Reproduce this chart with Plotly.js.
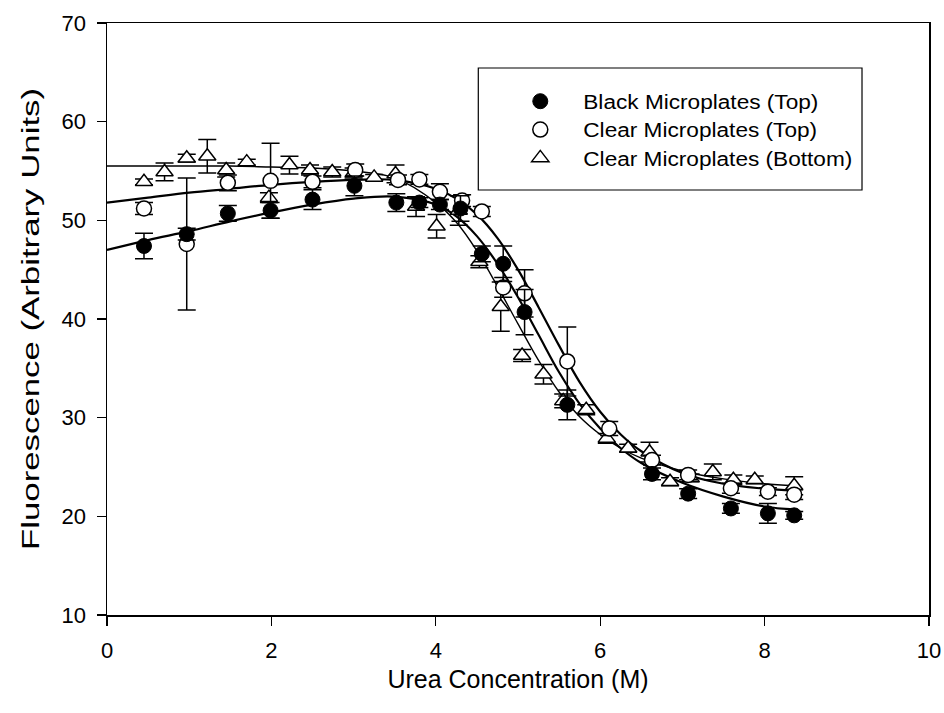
<!DOCTYPE html>
<html>
<head>
<meta charset="utf-8">
<script src="https://cdn.plot.ly/plotly-3.0.1.min.js"></script>
<style>html,body{margin:0;padding:0;background:#fff;}#chart{width:944px;height:713px;}</style>
</head>
<body>
<div id="chart"></div>
<script>
// Black Microplates (Top)
const blackX = [0.45,0.97,1.47,1.99,2.50,3.01,3.52,3.80,4.05,4.30,4.56,4.82,5.08,5.60,6.63,7.07,7.59,8.04,8.36];
const blackY = [47.4,48.6,50.7,51.0,52.1,53.5,51.8,51.8,51.6,51.2,46.6,45.6,40.7,31.3,24.3,22.3,20.8,20.3,20.1];
const blackErr = [1.3,0.6,0.8,0.8,1.0,1.0,0.9,0.5,0.5,1.3,0.8,1.8,2.3,1.5,0.6,0.5,0.5,1.0,0.4];
// Clear Microplates (Top)
const clearTopX = [0.45,0.97,1.47,1.99,2.50,3.02,3.54,3.80,4.05,4.32,4.56,4.82,5.08,5.60,6.11,6.63,7.07,7.59,8.04,8.36];
const clearTopY = [51.2,47.6,53.8,54.0,53.9,55.1,54.1,54.15,52.9,52.0,50.9,43.2,42.6,35.7,28.9,25.7,24.2,22.85,22.5,22.2];
const clearTopErr = [0.6,6.7,0.8,3.8,0.6,0.6,0.5,0.5,0.8,0.6,0.5,1.0,2.4,3.5,0.7,0.5,0.5,0.5,0.4,0.5];
// Clear Microplates (Bottom)
const clearBotX = [0.45,0.70,0.97,1.22,1.45,1.70,1.97,2.22,2.47,2.74,3.00,3.25,3.51,3.76,4.01,4.28,4.53,4.79,5.05,5.31,5.55,5.83,6.08,6.34,6.60,6.85,7.10,7.37,7.62,7.88,8.36];
const clearBotY = [53.9,54.9,56.3,56.5,55.1,55.9,52.3,55.6,55.1,54.9,54.8,54.35,54.7,51.4,49.4,51.0,45.8,41.25,36.3,34.4,31.7,30.8,27.9,26.9,26.5,23.5,23.9,24.5,23.7,23.7,23.1];
const clearBotErr = [0.3,0.9,0.4,1.7,0.7,0.3,0.5,0.9,0.5,0.5,0.5,0.3,0.9,1.0,1.2,1.5,0.6,2.5,0.6,1.0,0.7,0.5,0.5,0.4,1.0,0.4,0.4,0.8,0.5,0.4,0.9];
// Fitted curves
const fitX = [0,0.5,1,1.5,2,2.5,3,3.5,4,4.25,4.5,4.75,5,5.25,5.5,5.75,6,6.25,6.5,7,7.5,8,8.36];
const fitBlackY = [47.0,48.0,48.9,49.9,50.8,51.6,52.2,52.4,51.6,50.4,48.4,45.6,42.2,38.4,34.6,31.4,28.9,26.9,25.4,23.4,22.0,21.0,20.7];
const fitClearTopY = [51.8,52.3,52.8,53.2,53.6,53.9,54.1,54.1,53.2,52.2,50.6,48.2,45.0,41.2,37.3,33.6,30.6,28.3,26.6,24.4,23.3,22.8,22.6];
const fitClearBotY = [55.5,55.5,55.5,55.5,55.4,55.3,55.0,54.3,51.8,49.8,46.9,43.3,39.5,35.8,32.6,30.1,28.3,26.9,25.9,24.6,23.8,23.3,23.1];

const black = '#000';
const errStyle = (arr) => ({type:'data', array: arr, visible:true, color:black, thickness:1.5, width:9});

const traces = [
  {x: fitX, y: fitBlackY, mode:'lines', line:{color:black,width:2.2,shape:'spline'}, showlegend:false, hoverinfo:'skip'},
  {x: fitX, y: fitClearTopY, mode:'lines', line:{color:black,width:2.2,shape:'spline'}, showlegend:false, hoverinfo:'skip'},
  {x: fitX, y: fitClearBotY, mode:'lines', line:{color:black,width:1.4,shape:'spline'}, showlegend:false, hoverinfo:'skip'},
  {x: clearBotX, y: clearBotY, error_y: errStyle(clearBotErr), mode:'markers', name:'Clear Microplates (Bottom)',
   marker:{symbol:'triangle-up', size:15, color:'#fff', line:{color:black,width:1.5}}},
  {x: clearTopX, y: clearTopY, error_y: errStyle(clearTopErr), mode:'markers', name:'Clear Microplates (Top)',
   marker:{symbol:'circle', size:15, color:'#fff', line:{color:black,width:1.5}}},
  {x: blackX, y: blackY, error_y: errStyle(blackErr), mode:'markers', name:'Black Microplates (Top)',
   marker:{symbol:'circle', size:15, color:black, line:{color:black,width:1}}}
];

const font = 'Liberation Sans, Arial, sans-serif';
const layout = {
  width:944, height:713,
  margin:{l:106.5, r:15, t:23, b:98},
  paper_bgcolor:'#fff', plot_bgcolor:'#fff',
  font:{family:font, color:black, size:22},
  showlegend:true,
  legend:{x:0.4748, y:0.9003, xanchor:'left', yanchor:'top', traceorder:'reversed',
    bgcolor:'rgba(0,0,0,0)', borderwidth:0, font:{size:19.5, family:font},
    itemwidth:76, tracegroupgap:0},
  shapes:[{type:'rect', xref:'paper', yref:'paper', x0:0.4517, x1:0.9185, y0:0.7179, y1:0.924,
    line:{color:black, width:1.2}, fillcolor:'#fff', layer:'above'}],
  xaxis:{range:[0,10], tickvals:[0,2,4,6,8,10], ticks:'outside', ticklen:9, tickwidth:1.2, tickcolor:black,
    showline:true, linecolor:black, linewidth:1.5, mirror:true, showgrid:false, zeroline:false,
    ticklabelstandoff:6,
    tickfont:{size:22}, title:{text:'Urea Concentration (M)', font:{size:25}, standoff:8}},
  yaxis:{range:[10,70], tickvals:[10,20,30,40,50,60,70], ticks:'outside', ticklen:9, tickwidth:1.2, tickcolor:black,
    showline:true, linecolor:black, linewidth:1.5, mirror:true, showgrid:false, zeroline:false,
    ticklabelstandoff:6,
    tickfont:{size:22}, title:{text:'Fluorescence (Arbitrary Units)', font:{size:23}, standoff:15}}
};
Plotly.newPlot('chart', traces, layout, {displayModeBar:false, staticPlot:true}).then(function(gd){
  const yt = gd.querySelector('.g-ytitle text');
  if (yt) { yt.setAttribute('textLength', '462'); yt.setAttribute('lengthAdjust', 'spacingAndGlyphs'); }
  gd.querySelectorAll('.legend [clip-path], .legend .scrollbox').forEach(el => el.removeAttribute('clip-path'));
  const lt = Array.from(gd.querySelectorAll('.legend text.legendtext'));
  let maxW = 0;
  lt.forEach(t => { maxW = Math.max(maxW, t.getComputedTextLength()); });
  if (maxW > 0) {
    const f = 269 / maxW;
    lt.forEach(t => {
      const w = t.getComputedTextLength();
      t.setAttribute('textLength', String(w * f));
      t.setAttribute('lengthAdjust', 'spacingAndGlyphs');
    });
  }
});
</script>
</body>
</html>
